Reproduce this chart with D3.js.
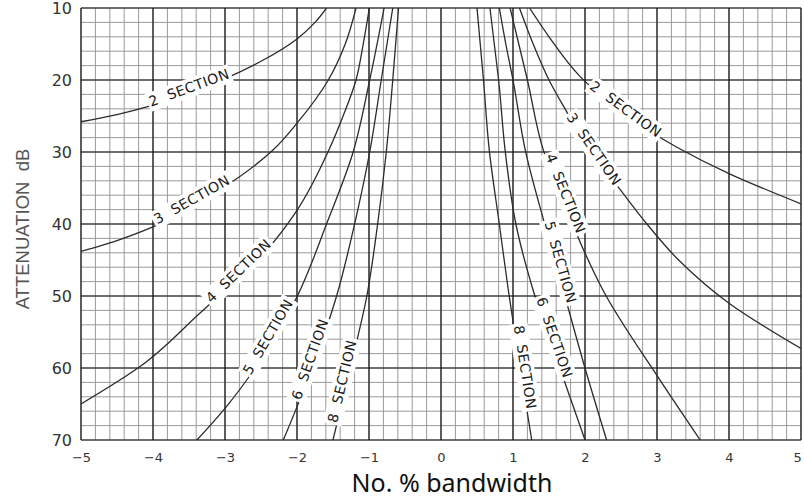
<!DOCTYPE html>
<html>
<head>
<meta charset="utf-8">
<script src="https://cdn.jsdelivr.net/npm/d3@7"></script>
<style>
  html, body { margin: 0; padding: 0; background: #fff; }
  svg { display: block; }
</style>
</head>
<body>
<svg id="chart"></svg>
<script>
var svg_width = 804;
var svg_height = 499;

// DATA  (x = % bandwidth, y = attenuation dB)
var sections = ["2", "3", "4", "5", "6", "8"];

var left2 = [[-1.59,10],[-1.75,12],[-2,14.3],[-2.5,17.4],[-3,19.8],[-3.5,21.8],[-4,23.5],[-4.5,24.8],[-5,25.8]];
var left3 = [[-1.18,10],[-1.33,15],[-1.565,20],[-2,26],[-2.33,29.7],[-3,34.8],[-4,40.4],[-4.5,42.3],[-5,43.8]];
var left4 = [[-0.995,10],[-1.08,15],[-1.18,20],[-1.36,25],[-1.556,29.7],[-2,38.1],[-2.42,43.6],[-2.9,48.3],[-3.35,52.4],[-4.18,59.8],[-5,65]];
var left5 = [[-0.79,10],[-0.99,20],[-1.22,30],[-1.59,40],[-2,50.1],[-2.58,60],[-3,65.6],[-3.39,70]];
var left6 = [[-0.67,10],[-0.83,20],[-0.99,30],[-1.2,40],[-1.45,50],[-1.79,60],[-2,65.4],[-2.19,70]];
var left8 = [[-0.59,10],[-0.67,20],[-0.76,30],[-0.88,40],[-1.03,50],[-1.26,60],[-1.5,70]];

var right2 = [[1.23,10],[1.5,14],[1.93,19.5],[2.55,24.8],[3.27,29.3],[4,33],[5,37.2]];
var right3 = [[1.09,10],[1.28,15],[1.5,20],[1.78,25],[2.07,30],[2.44,34.6],[2.86,40],[3.3,45],[4,51],[5,57.3]];
var right4 = [[0.96,10],[1.08,15],[1.2,20],[1.42,29.7],[1.7,36.8],[1.98,43.6],[2.25,49.2],[3.01,61.2],[3.6,70]];
var right5 = [[0.81,10],[0.9,15],[1,20],[1.17,29.7],[1.44,40],[1.72,50],[2,60],[2.3,70]];
var right6 = [[0.68,10],[0.74,15],[0.8,20],[0.89,29.7],[1.04,40],[1.28,49.2],[1.65,60],[2,70]];
var right8 = [[0.5,10],[0.59,20],[0.67,29.7],[0.81,40],[0.935,49.2],[1.1,60],[1.26,70]];

// attenuation (dB) along each curve where its label sits
var leftLabelDb  = [21.7, 37.2, 47, 56, 59, 62];
var rightLabelDb = [24.6, 30, 36, 45.5, 56, 60];

var xTicks = [-5, -4, -3, -2, -1, 0, 1, 2, 3, 4, 5];
var yTicks = [10, 20, 30, 40, 50, 60, 70];

var leftCurves = [left2, left3, left4, left5, left6, left8];
var rightCurves = [right2, right3, right4, right5, right6, right8];

// SCALES
var plotLeft = 81, plotRight = 801, plotTop = 8, plotBottom = 440;

var xScale = d3.scaleLinear()
               .domain([-5, 5])
               .range([plotLeft, plotRight]);

var yScale = d3.scaleLinear()
               .domain([10, 70])
               .range([plotTop, plotBottom]);

var svg = d3.select("#chart")
    .attr("width", svg_width)
    .attr("height", svg_height);

svg.append("defs").append("clipPath")
    .attr("id", "plot-clip")
  .append("rect")
    .attr("x", plotLeft)
    .attr("y", plotTop)
    .attr("width", plotRight - plotLeft)
    .attr("height", plotBottom - plotTop);

// GRID - minor every 0.2 / 2 dB, major every 1 / 10 dB
var minorX = d3.range(-5, 5.0001, 0.2);
var minorY = d3.range(10, 70.0001, 2);

var grid = svg.append("g");

grid.selectAll("line.minor-x")
    .data(minorX)
    .enter()
    .append("line")
      .attr("x1", function(d) { return xScale(d); })
      .attr("x2", function(d) { return xScale(d); })
      .attr("y1", plotTop)
      .attr("y2", plotBottom)
      .attr("stroke", "#9a9a9a")
      .attr("stroke-width", 1);

grid.selectAll("line.minor-y")
    .data(minorY)
    .enter()
    .append("line")
      .attr("x1", plotLeft)
      .attr("x2", plotRight)
      .attr("y1", function(d) { return yScale(d); })
      .attr("y2", function(d) { return yScale(d); })
      .attr("stroke", "#9a9a9a")
      .attr("stroke-width", 1);

grid.selectAll("line.major-x")
    .data(xTicks)
    .enter()
    .append("line")
      .attr("x1", function(d) { return xScale(d); })
      .attr("x2", function(d) { return xScale(d); })
      .attr("y1", plotTop)
      .attr("y2", plotBottom)
      .attr("stroke", "#111")
      .attr("stroke-width", 1.2);

grid.selectAll("line.major-y")
    .data(yTicks)
    .enter()
    .append("line")
      .attr("x1", plotLeft)
      .attr("x2", plotRight)
      .attr("y1", function(d) { return yScale(d); })
      .attr("y2", function(d) { return yScale(d); })
      .attr("stroke", "#111")
      .attr("stroke-width", 1.2);

// CURVES
var line = d3.line()
    .x(function(d) { return xScale(d[0]); })
    .y(function(d) { return yScale(d[1]); })
    .curve(d3.curveMonotoneY);

var allCurves = leftCurves.concat(rightCurves);

svg.append("g")
    .attr("clip-path", "url(#plot-clip)")
  .selectAll("path")
  .data(allCurves)
  .enter()
  .append("path")
    .attr("d", line)
    .attr("fill", "none")
    .attr("stroke", "#2b2b2b")
    .attr("stroke-width", 1.3);

// CURVE LABELS - rotated along the curve, white box knocks out grid + curve
function xAt(pts, db) {
  for (var i = 0; i < pts.length - 1; i++) {
    if (db >= pts[i][1] && db <= pts[i + 1][1]) {
      var t = (db - pts[i][1]) / (pts[i + 1][1] - pts[i][1]);
      return pts[i][0] + t * (pts[i + 1][0] - pts[i][0]);
    }
  }
  return pts[pts.length - 1][0];
}

var labels = [];
sections.forEach(function(s, i) {
  labels.push({ name: s, pts: leftCurves[i], db: leftLabelDb[i] });
  labels.push({ name: s, pts: rightCurves[i], db: rightLabelDb[i] });
});

var labelG = svg.append("g")
  .selectAll("g")
  .data(labels)
  .enter()
  .append("g")
    .attr("transform", function(d) {
      var x0 = xScale(xAt(d.pts, d.db - 2)), y0 = yScale(d.db - 2);
      var x1 = xScale(xAt(d.pts, d.db + 2)), y1 = yScale(d.db + 2);
      var a = Math.atan2(y1 - y0, x1 - x0) * 180 / Math.PI;
      if (a > 90) a -= 180;
      if (a < -90) a += 180;
      return "translate(" + xScale(xAt(d.pts, d.db)) + "," + yScale(d.db) + ") rotate(" + a + ")";
    });

labelG.append("text")
    .attr("text-anchor", "middle")
    .attr("y", 0)
    .style("font-family", "'DejaVu Sans', sans-serif")
    .style("font-size", "14px")
    .style("letter-spacing", "0.5px")
    .style("white-space", "pre")
    .attr("fill", "#1a1a1a")
    .text(function(d) { return d.name + "  SECTION"; });

labelG.each(function() {
  var g = d3.select(this);
  var bb = g.select("text").node().getBBox();
  g.insert("rect", "text")
    .attr("x", bb.x - 2)
    .attr("y", bb.y - 1)
    .attr("width", bb.width + 4)
    .attr("height", bb.height + 3)
    .attr("fill", "#fff");
});

// AXES (tick labels only)
var xAxis = d3.axisBottom(xScale)
              .tickValues(xTicks)
              .tickSize(0)
              .tickPadding(13);
var yAxis = d3.axisLeft(yScale)
              .tickValues(yTicks)
              .tickSize(0)
              .tickPadding(9);

var gx = svg.append("g")
    .attr("transform", "translate(0," + plotBottom + ")")
    .call(xAxis);
gx.select(".domain").remove();
gx.selectAll("text")
    .style("font-family", "'DejaVu Sans', sans-serif")
    .style("font-size", "13px")
    .attr("fill", "#333");
// last label sits on the window edge; nudge it in so it stays readable
gx.selectAll("text")
    .filter(function(d) { return d === 5; })
    .attr("dx", "-0.3em");

var gy = svg.append("g")
    .attr("transform", "translate(" + plotLeft + ",0)")
    .call(yAxis);
gy.select(".domain").remove();
gy.selectAll("text")
    .style("font-family", "'DejaVu Sans', sans-serif")
    .style("font-size", "16px")
    .attr("fill", "#333");

// AXES LABELS
svg.append("text")
    .attr("transform", "translate(28.5," + 229 + ") rotate(-90)")
    .style("text-anchor", "middle")
    .style("font-family", "'Liberation Sans', Arial, sans-serif")
    .style("font-size", "18.5px")
    .style("white-space", "pre")
    .attr("fill", "#555")
    .text("ATTENUATION  dB");

svg.append("text")
    .attr("x", 452)
    .attr("y", 491.5)
    .style("text-anchor", "middle")
    .style("font-family", "'Noto Sans', sans-serif")
    .style("font-size", "25px")
    .attr("fill", "#111")
    .text("No. % bandwidth");
</script>
</body>
</html>
